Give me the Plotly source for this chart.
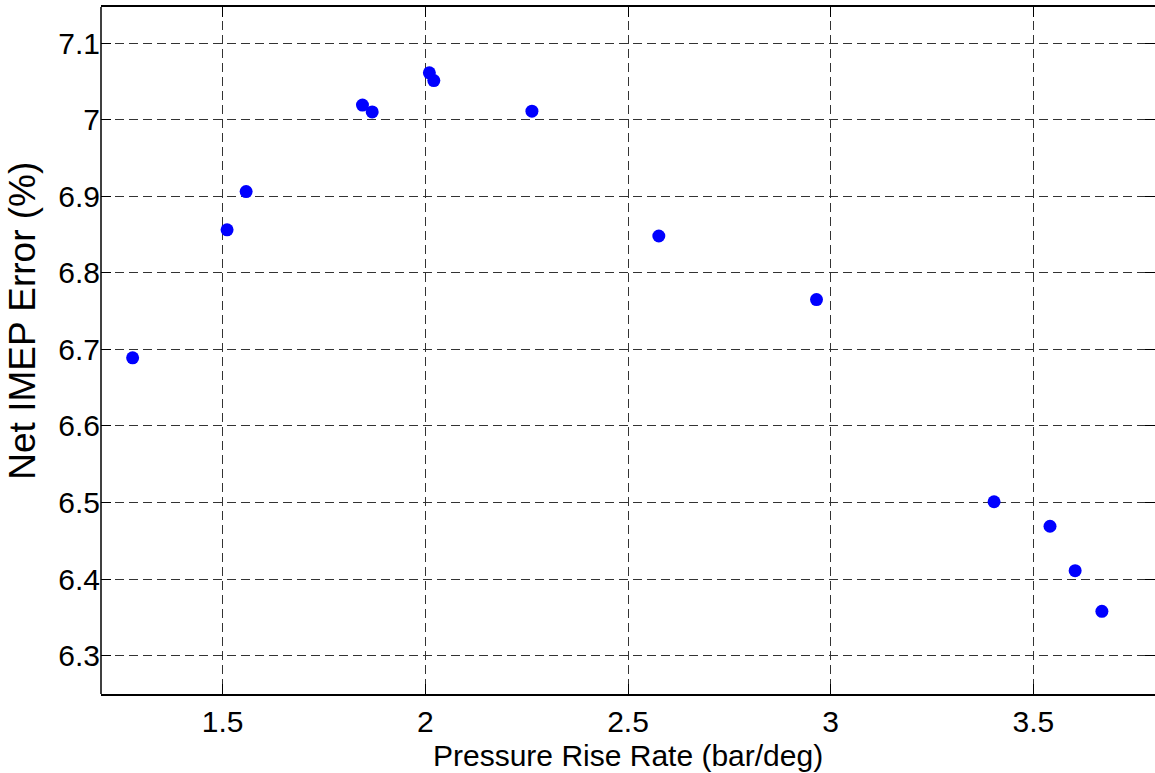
import plotly.graph_objects as go

# Measured points: pressure rise rate vs. net IMEP error
pressure_rise_rate = [1.278, 1.511, 1.558, 1.845, 1.869, 2.010, 2.021, 2.263,
                      2.576, 2.965, 3.403, 3.541, 3.603, 3.669]
imep_error_pct = [6.689, 6.856, 6.906, 7.019, 7.010, 7.061, 7.051, 7.011,
                  6.848, 6.765, 6.501, 6.469, 6.411, 6.358]

x_ticks = [1.5, 2, 2.5, 3, 3.5]
x_tick_text = ["1.5", "2", "2.5", "3", "3.5"]
y_ticks = [6.3, 6.4, 6.5, 6.6, 6.7, 6.8, 6.9, 7.0, 7.1]
y_tick_text = ["6.3", "6.4", "6.5", "6.6", "6.7", "6.8", "6.9", "7", "7.1"]

FONT = "Liberation Sans, Arial, Helvetica, sans-serif"

fig = go.Figure(
    go.Scatter(
        x=pressure_rise_rate,
        y=imep_error_pct,
        mode="markers",
        marker=dict(color="#0000FF", size=13, line=dict(width=0)),
        showlegend=False,
    )
)

axis_common = dict(
    linecolor="black",
    linewidth=1.5,
    ticks="inside",
    ticklen=10,
    tickwidth=1,
    tickcolor="black",
    showgrid=True,
    gridcolor="#333333",
    gridwidth=1,
    griddash="9px,5px",
    zeroline=False,
    tickfont=dict(family=FONT, size=30, color="black"),
)

# x axis carries the bottom and top frame lines
fig.update_xaxes(
    range=[1.2, 3.8],
    tickvals=x_ticks,
    ticktext=x_tick_text,
    showline=True,
    mirror="ticks",
    **axis_common,
)
# y axis: ticks on both sides, left frame line drawn as a shape
fig.update_yaxes(
    range=[6.25, 7.147],
    tickvals=y_ticks,
    ticktext=y_tick_text,
    showline=False,
    mirror="ticks",
    **axis_common,
)
fig.add_shape(
    type="line", xref="paper", yref="paper",
    x0=0, x1=0, y0=0, y1=1,
    line=dict(color="black", width=1.5),
    layer="above",
)

fig.add_annotation(
    text="Pressure Rise Rate (bar/deg)",
    xref="paper", yref="paper",
    x=0.5, y=-0.0898,
    xanchor="center", yanchor="middle",
    showarrow=False,
    font=dict(family=FONT, size=30, color="black"),
)
fig.add_annotation(
    text="Net IMEP Error (%)",
    xref="paper", yref="paper",
    x=(23 - 101) / 1054, y=0.5434,
    xanchor="center", yanchor="middle",
    textangle=-90,
    showarrow=False,
    font=dict(family=FONT, size=37, color="black"),
)

fig.update_layout(
    width=1155,
    height=773,
    margin=dict(l=101, r=0, t=7, b=79),
    paper_bgcolor="white",
    plot_bgcolor="white",
)

fig.write_html("out.html")
